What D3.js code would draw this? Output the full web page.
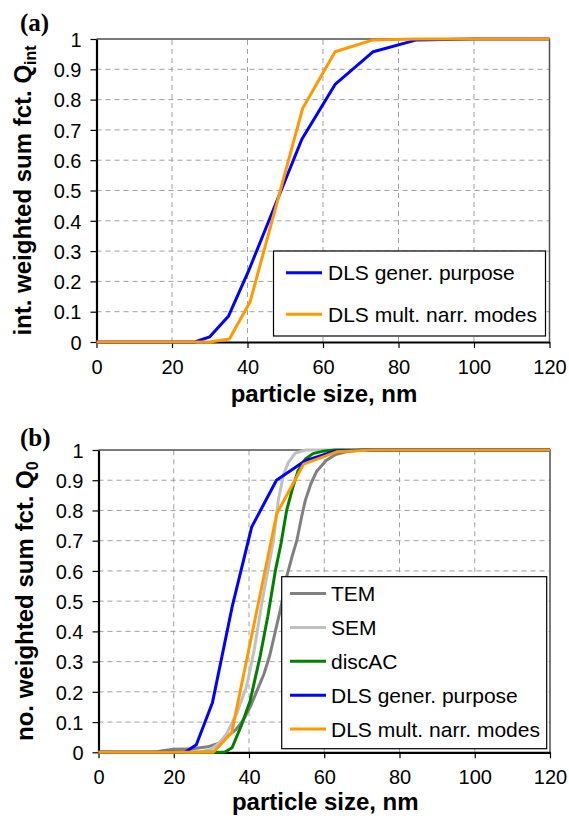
<!DOCTYPE html>
<html>
<head>
<meta charset="utf-8">
<script src="https://cdn.jsdelivr.net/npm/d3@7/dist/d3.min.js"></script>
<style>
  html, body { margin: 0; padding: 0; background: #fff; }
  svg { display: block; }
  text { fill: #000; }
</style>
</head>
<body>
<svg id="chart" width="569" height="819"></svg>
<script>
// ---------- data ----------
const xTicks = [0, 20, 40, 60, 80, 100, 120];
const yTicks = [0, 0.1, 0.2, 0.3, 0.4, 0.5, 0.6, 0.7, 0.8, 0.9, 1];
const yTickLabels = ["0", "0.1", "0.2", "0.3", "0.4", "0.5", "0.6", "0.7", "0.8", "0.9", "1"];

// panel (a): intensity weighted sum function Q_int
const sizeA_gen  = [0, 26, 30, 35, 40.2, 54.4, 63.2, 73.3, 84.8, 100, 120];
const qA_gen     = [0, 0, 0.017, 0.086, 0.232, 0.669, 0.85, 0.958, 0.997, 1, 1];
const sizeA_mult = [0, 30, 35.2, 40.7, 54.6, 63.2, 73.3, 85, 120];
const qA_mult    = [0, 0, 0.01, 0.133, 0.771, 0.958, 0.997, 1, 1];

// panel (b): number weighted sum function Q_0
const sizeB_tem = [0, 15, 17, 20, 25, 29, 32, 34, 36.5, 38.5, 40.5, 42, 44, 45.5, 47, 48.5, 50, 51.5, 52.7, 54, 55, 56.5, 58, 60.5, 63, 66, 70, 120];
const qB_tem    = [0, 0, 0.005, 0.01, 0.012, 0.018, 0.03, 0.05, 0.075, 0.107, 0.155, 0.2, 0.26, 0.32, 0.4, 0.48, 0.58, 0.65, 0.7, 0.78, 0.835, 0.89, 0.93, 0.965, 0.985, 0.995, 1, 1];
const sizeB_sem = [0, 27, 30, 32, 34, 36.8, 39.4, 41.4, 43.5, 45, 46.5, 47.8, 49.2, 50.5, 52.3, 55, 120];
const qB_sem    = [0, 0, 0.01, 0.03, 0.06, 0.13, 0.22, 0.34, 0.5, 0.6, 0.7, 0.835, 0.92, 0.96, 0.99, 1, 1];
const sizeB_dac = [0, 33.5, 35.5, 38, 40.3, 43, 45, 47, 48.5, 50, 51.5, 53, 55, 57, 60, 63, 120];
const qB_dac    = [0, 0, 0.015, 0.09, 0.17, 0.32, 0.45, 0.6, 0.69, 0.8, 0.87, 0.93, 0.97, 0.988, 0.997, 1, 1];
const sizeB_gen = [0, 23, 26, 30.3, 35.5, 40.7, 47.3, 55, 63, 73, 120];
const qB_gen    = [0, 0, 0.025, 0.165, 0.48, 0.745, 0.9, 0.965, 0.997, 1, 1];
const sizeB_mult = [0, 30.5, 35.4, 47.4, 54.5, 63.3, 73, 120];
const qB_mult    = [0, 0, 0.065, 0.79, 0.953, 0.994, 1, 1];

const seriesNames = ["TEM", "SEM", "discAC", "DLS gener. purpose", "DLS mult. narr. modes"];
const seriesColors = ["#808080", "#c0c0c0", "#008000", "#0000ff", "#ff9900"];

// ---------- drawing ----------
const SANS = "'Liberation Sans', Arial, sans-serif";
const SERIF = "'Liberation Serif', 'Times New Roman', serif";
const svg = d3.select("#chart");
svg.append("rect").attr("width", 569).attr("height", 819).attr("fill", "#fff");

function zip(xs, ys) { return xs.map((x, i) => [x, ys[i]]); }

function panel(cfg) {
  const x = d3.scaleLinear().domain([0, 120]).range([cfg.x0, cfg.x1]);
  const y = d3.scaleLinear().domain([0, 1]).range([cfg.y0, cfg.y1]);
  const g = svg.append("g");

  // grid
  g.append("g").selectAll("line").data(xTicks.filter(d => d > 0 && d < 120)).join("line")
    .attr("x1", d => x(d)).attr("x2", d => x(d)).attr("y1", y(0)).attr("y2", y(1))
    .attr("stroke", "#a0a0a0").attr("stroke-width", 1).attr("stroke-dasharray", "5,4");
  g.append("g").selectAll("line").data(yTicks.filter(d => d > 0 && d < 1)).join("line")
    .attr("x1", x(0)).attr("x2", x(120)).attr("y1", d => y(d)).attr("y2", d => y(d))
    .attr("stroke", "#a0a0a0").attr("stroke-width", 1).attr("stroke-dasharray", "5,4");

  // frame top/right
  g.append("path")
    .attr("d", `M${x(0)},${y(1)}H${x(120)}V${y(0)}`)
    .attr("fill", "none").attr("stroke", "#505050").attr("stroke-width", 1.5);

  // axes
  const ax = g.append("g").attr("transform", `translate(0,${y(0)})`)
    .call(d3.axisBottom(x).tickValues(xTicks).tickSize(6).tickSizeOuter(0).tickFormat(d3.format("d")));
  const ay = g.append("g").attr("transform", `translate(${x(0)},0)`)
    .call(d3.axisLeft(y).tickValues(yTicks).tickSize(6).tickSizeOuter(0).tickFormat((d, i) => yTickLabels[i]));
  [ax, ay].forEach(a => {
    a.attr("font-family", null).attr("font-size", null);
    a.select(".domain").attr("stroke", "#000").attr("stroke-width", 2.2);
    a.selectAll(".tick line").attr("stroke", "#000").attr("stroke-width", 1.2);
    a.selectAll(".tick text").style("font-size", "20px").style("font-family", SANS).attr("fill", "#000");
  });
  ax.selectAll(".tick text").attr("dy", null).attr("y", 32);
  ay.selectAll(".tick text").attr("x", -15).attr("dy", "0.36em");

  // lines
  const line = d3.line().x(d => x(d[0])).y(d => y(d[1]));
  cfg.series.forEach(s => {
    g.append("path").datum(zip(s.xs, s.ys))
      .attr("d", line).attr("fill", "none").attr("stroke", s.color)
      .attr("stroke-width", 3).attr("stroke-linejoin", "round");
  });

  // legend
  const L = cfg.legend;
  g.append("rect").attr("x", L.x).attr("y", L.y).attr("width", L.w).attr("height", L.h)
    .attr("fill", "#fff").attr("stroke", "#000").attr("stroke-width", 1.2);
  L.items.forEach((it, i) => {
    const yy = L.firstY + i * L.step;
    g.append("line").attr("x1", L.lx0).attr("x2", L.lx1).attr("y1", yy).attr("y2", yy)
      .attr("stroke", it.color).attr("stroke-width", 3);
    g.append("text").attr("x", L.tx).attr("y", yy).attr("dy", "0.36em")
      .style("font-family", SANS).style("font-size", "21px").text(it.name);
  });

  // x title
  g.append("text").attr("x", (x(0) + x(120)) / 2 + 1).attr("y", y(0) + cfg.xtDy)
    .attr("text-anchor", "middle").style("font-family", SANS).style("font-size", "24px").style("font-weight", "bold")
    .text("particle size, nm");

  // y title with subscript
  const yt = g.append("text")
    .attr("transform", `translate(${cfg.ytX},${(y(0) + y(1)) / 2}) rotate(-90)`)
    .attr("text-anchor", "middle").style("font-family", SANS).style("font-size", "24px").style("font-weight", "bold");
  yt.append("tspan").text(cfg.ytMain);
  yt.append("tspan").style("font-size", "16px").attr("dy", "5").text(cfg.ytSub);

  // panel label
  svg.append("text").attr("x", cfg.lblX).attr("y", cfg.lblY)
    .style("font-family", SERIF).style("font-size", "25px").style("font-weight", "bold").text(cfg.label);
}

panel({
  x0: 96.5, x1: 549.5, y0: 342, y1: 39,
  series: [
    { xs: sizeA_gen, ys: qA_gen, color: seriesColors[3] },
    { xs: sizeA_mult, ys: qA_mult, color: seriesColors[4] }
  ],
  legend: {
    x: 273.5, y: 251, w: 272, h: 85, firstY: 272.7, step: 41.6,
    lx0: 286, lx1: 322, tx: 328,
    items: [
      { name: seriesNames[3], color: seriesColors[3] },
      { name: seriesNames[4], color: seriesColors[4] }
    ]
  },
  xtDy: 60, ytX: 31, ytMain: "int. weighted sum fct. Q", ytSub: "int",
  label: "(a)", lblX: 20, lblY: 31
});

panel({
  x0: 98.5, x1: 550, y0: 752.3, y1: 450,
  series: [
    { xs: sizeB_tem, ys: qB_tem, color: seriesColors[0] },
    { xs: sizeB_sem, ys: qB_sem, color: seriesColors[1] },
    { xs: sizeB_dac, ys: qB_dac, color: seriesColors[2] },
    { xs: sizeB_gen, ys: qB_gen, color: seriesColors[3] },
    { xs: sizeB_mult, ys: qB_mult, color: seriesColors[4] }
  ],
  legend: {
    x: 281.7, y: 576.7, w: 265, h: 172, firstY: 593.5, step: 33.9,
    lx0: 290, lx1: 326, tx: 331,
    items: seriesNames.map((n, i) => ({ name: n, color: seriesColors[i] }))
  },
  xtDy: 58, ytX: 33, ytMain: "no. weighted sum fct. Q", ytSub: "0",
  label: "(b)", lblX: 20, lblY: 446
});
</script>
</body>
</html>
